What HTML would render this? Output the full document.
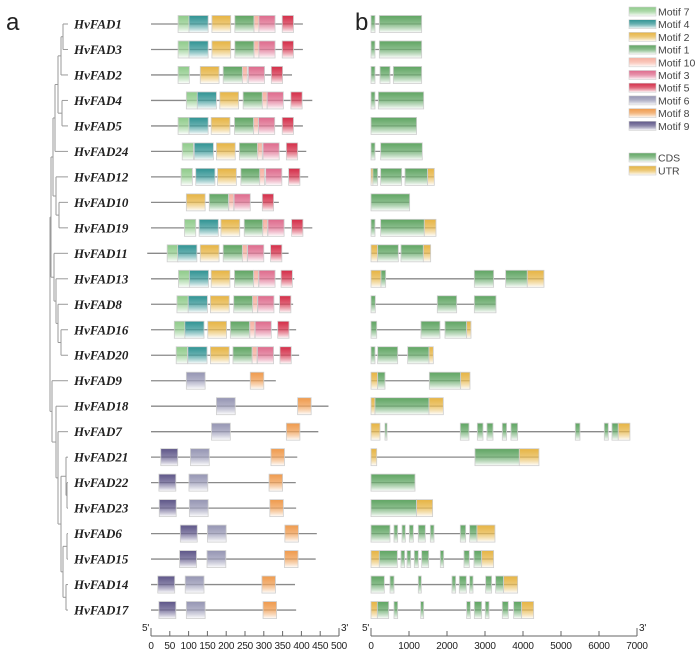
<!DOCTYPE html>
<html><head><meta charset="utf-8"><style>
html,body{margin:0;padding:0;background:#fff;}
svg{display:block;font-family:"Liberation Sans",sans-serif;}
.lbl{font-family:"Liberation Serif",serif;font-style:italic;font-weight:bold;font-size:13px;fill:#222;}
.tk{font-size:10px;fill:#222;letter-spacing:-0.2px;}
.lg{font-size:10.5px;fill:#444;}
</style></head><body>
<svg id="fig" width="696" height="658" viewBox="0 0 696 658" xmlns="http://www.w3.org/2000/svg">
<defs id="defs"></defs>
<text x="6" y="30" font-size="24" fill="#222">a</text>
<text x="355" y="30" font-size="24" fill="#222">b</text>
<g id="tree"></g>
<g id="labels"></g>
<g id="motifs"></g>
<g id="genes"></g>
<g id="axes"></g>
<g id="legend"></g>
</svg>
<script>
const geneNames=["HvFAD1","HvFAD3","HvFAD2","HvFAD4","HvFAD5","HvFAD24","HvFAD12","HvFAD10","HvFAD19","HvFAD11","HvFAD13","HvFAD8","HvFAD16","HvFAD20","HvFAD9","HvFAD18","HvFAD7","HvFAD21","HvFAD22","HvFAD23","HvFAD6","HvFAD15","HvFAD14","HvFAD17"];
const proteinSpan=[[0,404],[0,404],[0,375],[0,429],[0,404],[0,413],[0,418],[0,340],[0,429],[-10,366],[0,381],[0,378],[0,386],[0,394],[0,332],[0,472],[0,445],[0,389],[0,385],[0,386],[0,441],[0,438],[0,383],[0,386]];
const motifOrder=["7","4","2","1","10","3","5","6","8","9"];
const motifWidth={"7":30,"4":51,"2":50,"1":51,"10":13,"3":43,"5":30,"6":50,"8":36,"9":45};
const motifSites=[
[["7",72],["4",101],["2",162],["1",223],["10",274],["3",287],["5",349]],
[["7",72],["4",101],["2",162],["1",223],["10",274],["3",287],["5",349]],
[["7",72],["2",131],["1",192],["10",243],["3",259],["5",320]],
[["7",94],["4",123],["2",183],["1",245],["10",296],["3",309],["5",372]],
[["7",72],["4",101],["2",160],["1",222],["10",273],["3",286],["5",349]],
[["7",83],["4",115],["2",174],["1",235],["10",283],["3",298],["5",360]],
[["7",80],["4",119],["2",177],["1",239],["10",289],["3",305],["5",366]],
[["2",94],["1",155],["10",207],["3",221],["5",296]],
[["7",89],["4",128],["2",186],["1",248],["10",297],["3",311],["5",374]],
[["7",43],["4",71],["2",131],["1",192],["10",243],["3",257],["5",318]],
[["7",73],["4",102],["2",160],["1",222],["10",273],["3",287],["5",346]],
[["7",69],["4",99],["2",158],["1",220],["10",270],["3",284],["5",342]],
[["7",62],["4",90],["2",151],["1",211],["10",263],["3",277],["5",337]],
[["7",67],["4",98],["2",158],["1",218],["10",269],["3",283],["5",343]],
[["6",94],["8",264]],
[["6",174],["8",390]],
[["6",161],["8",360]],
[["9",26],["6",105],["8",319]],
[["9",21],["6",101],["8",314]],
[["9",22],["6",102],["8",316]],
[["9",78],["6",150],["8",356]],
[["9",76],["6",149],["8",355]],
[["9",18],["6",91],["8",295]],
[["9",21],["6",94],["8",298]]];
const exons=[
[[0,105,"C"],[219,1333,"C"]],
[[0,105,"C"],[219,1333,"C"]],
[[0,105,"C"],[237,500,"C"],[588,1333,"C"]],
[[0,105,"C"],[193,1386,"C"]],
[[0,1200,"C"]],
[[0,105,"C"],[254,1350,"C"]],
[[0,50,"U"],[50,175,"C"],[254,807,"C"],[895,1490,"C"],[1490,1666,"U"]],
[[0,1017,"C"]],
[[0,105,"C"],[254,1403,"C"],[1403,1710,"U"]],
[[0,175,"U"],[175,719,"C"],[789,1377,"C"],[1377,1570,"U"]],
[[0,263,"U"],[263,386,"C"],[2719,3227,"C"],[3543,4113,"C"],[4113,4552,"U"]],
[[0,114,"C"],[1745,2254,"C"],[2719,3289,"C"]],
[[0,150,"C"],[1315,1815,"C"],[1947,2517,"C"],[2517,2631,"U"]],
[[0,105,"C"],[175,702,"C"],[965,1526,"C"],[1526,1640,"U"]],
[[0,175,"U"],[175,368,"C"],[1535,2359,"C"],[2359,2605,"U"]],
[[0,105,"U"],[105,1526,"C"],[1526,1903,"U"]],
[[0,237,"U"],[368,421,"C"],[2350,2578,"C"],[2798,2947,"C"],[3052,3210,"C"],[3455,3569,"C"],[3683,3859,"C"],[5376,5499,"C"],[6139,6244,"C"],[6341,6507,"C"],[6507,6814,"U"]],
[[0,150,"U"],[2736,3903,"C"],[3903,4420,"U"]],
[[0,1158,"C"]],
[[0,1200,"C"],[1200,1622,"U"]],
[[0,500,"C"],[605,702,"C"],[816,903,"C"],[1009,1114,"C"],[1245,1429,"C"],[1561,1658,"C"],[2350,2491,"C"],[2596,2789,"C"],[2789,3262,"U"]],
[[0,219,"U"],[219,693,"C"],[789,886,"C"],[947,1044,"C"],[1140,1245,"C"],[1333,1517,"C"],[1824,1912,"C"],[2447,2587,"C"],[2710,2912,"C"],[2912,3227,"U"]],
[[0,351,"C"],[500,605,"C"],[1245,1324,"C"],[2131,2228,"C"],[2324,2508,"C"],[2596,2684,"C"],[3017,3175,"C"],[3280,3490,"C"],[3490,3859,"U"]],
[[0,167,"U"],[167,465,"C"],[605,702,"C"],[1307,1386,"C"],[2517,2614,"C"],[2719,2912,"C"],[3008,3105,"C"],[3455,3613,"C"],[3754,3964,"C"],[3964,4280,"U"]]];
const aaTicks=[0,50,100,150,200,250,300,350,400,450,500];
const bpTicks=[0,1000,2000,3000,4000,5000,6000,7000];

const NS="http://www.w3.org/2000/svg";
const colors={"7":"#8fcb8a","4":"#2f9393","2":"#e6b443","1":"#5fa562","10":"#f7b0a0","3":"#de6a8c","5":"#d42c47","6":"#9595b3","8":"#ef9a4c","9":"#5d5588","C":"#5fa562","U":"#e6b443"};
const defs=document.getElementById('defs');
for(const k in colors){
  const g=document.createElementNS(NS,'linearGradient');
  g.setAttribute('id','g'+k);g.setAttribute('x1','0');g.setAttribute('y1','0');g.setAttribute('x2','0');g.setAttribute('y2','1');
  g.innerHTML='<stop offset="0" stop-color="'+colors[k]+'"/><stop offset="0.45" stop-color="'+colors[k]+'" stop-opacity="0.75"/><stop offset="1" stop-color="#fff"/>';
  defs.appendChild(g);
}
function el(tag,attrs,parent){const e=document.createElementNS(NS,tag);for(const a in attrs)e.setAttribute(a,attrs[a]);parent.appendChild(e);return e;}
const rowY=i=>24+25.48*i;
const xA=v=>151+v*(188/500);
const xB=v=>371+v*(266/7000);
const BH=17;

const L=document.getElementById('labels');
geneNames.forEach((n,i)=>{const t=el('text',{x:74,y:rowY(i)+4.5,class:'lbl'},L);t.textContent=n;

});

const M=document.getElementById('motifs');
motifSites.forEach((sites,i)=>{
  const y=rowY(i);
  const ln=el('line',{x1:xA(proteinSpan[i][0]),x2:xA(proteinSpan[i][1]),y1:y,y2:y,stroke:'#8a8a8a','stroke-width':1.3},M);
  
  
  sites.forEach(s=>{
    const r=el('rect',{x:xA(s[1]),y:y-BH/2,width:motifWidth[s[0]]*188/500,height:BH,fill:'url(#g'+s[0]+')',stroke:'#cfcfcf','stroke-width':0.8},M);
    
    
  });
});

const G=document.getElementById('genes');
exons.forEach((ex,i)=>{
  const y=rowY(i);
  const ln=el('line',{x1:xB(ex[0][0]),x2:xB(ex[ex.length-1][1]),y1:y,y2:y,stroke:'#8a8a8a','stroke-width':1.3},G);
  
  
  ex.forEach(e=>{
    const r=el('rect',{x:xB(e[0]),y:y-BH/2,width:Math.max(1.5,xB(e[1])-xB(e[0])),height:BH,fill:'url(#g'+e[2]+')',stroke:'#cfcfcf','stroke-width':0.8},G);
    
    
  });
});

const A=document.getElementById('axes');
function axis(ticks,xf,prefix,y){
  el('line',{x1:xf(ticks[0]),x2:xf(ticks[ticks.length-1]),y1:y,y2:y,stroke:'#666','stroke-width':1},A);
  ticks.forEach((t,k)=>{
    const h=(k===0||k===ticks.length-1)?8:5;
    el('line',{x1:xf(t),x2:xf(t),y1:y-h,y2:y,stroke:'#666','stroke-width':1},A);
    const tx=el('text',{x:xf(t),y:y+13,'text-anchor':'middle',class:'tk'},A);tx.textContent=t;
    
    
  });
  const a=el('text',{x:xf(ticks[0])-9,y:y-5,class:'tk'},A);a.textContent="5'";
  const b=el('text',{x:xf(ticks[ticks.length-1])+2,y:y-5,class:'tk'},A);b.textContent="3'";
}
axis(aaTicks,xA,'aa',636);
axis(bpTicks,xB,'bp',636);

const LG=document.getElementById('legend');
motifOrder.forEach((m,k)=>{
  const y=7+12.7*k;
  const r=el('rect',{x:629,y:y,width:27,height:9,fill:'url(#g'+m+')',stroke:'#cfcfcf','stroke-width':0.6},LG);
  
  
  const t=el('text',{x:658,y:y+8.5,class:'lg'},LG);t.textContent='Motif '+m;
  
  
});
[["C","CDS",153],["U","UTR",166]].forEach(d=>{
  const r=el('rect',{x:629,y:d[2],width:27,height:9,fill:'url(#g'+d[0]+')',stroke:'#cfcfcf','stroke-width':0.6},LG);
  
  
  const t=el('text',{x:658,y:d[2]+8.5,class:'lg'},LG);t.textContent=d[1];
  
  
});

const TIP=68;
const tree=[50,[
  [51,[
    [53,[
      [55,[[58,[[61,[[63,[0,1]],2]],[62,[3,4]]]],5]],
      [56,[6,[59,[7,8]]]]
    ]],
    [54,[9,[56,[10,[58,[11,[61,[12,13]]]]]]]]
  ]],
  [52,[14,[56,[15,[58,[16,[61,[[66,[17,[67,[18,19]]]],[63,[[67,[20,21]],[66,[22,23]]]]]]]]]]]]
]];
const T=document.getElementById('tree');
function draw(n){
  if(typeof n==='number')return {x:TIP,y:rowY(n)};
  const pts=n[1].map(draw);
  const ys=pts.map(p=>p.y);
  const y0=Math.min(...ys),y1=Math.max(...ys);
  el('line',{x1:n[0],x2:n[0],y1:y0,y2:y1,stroke:'#9a9a9a','stroke-width':1},T);
  pts.forEach(p=>el('line',{x1:n[0],x2:p.x,y1:p.y,y2:p.y,stroke:'#9a9a9a','stroke-width':1},T));
  return {x:n[0],y:(y0+y1)/2};
}
draw(tree);
</script>
</body></html>
